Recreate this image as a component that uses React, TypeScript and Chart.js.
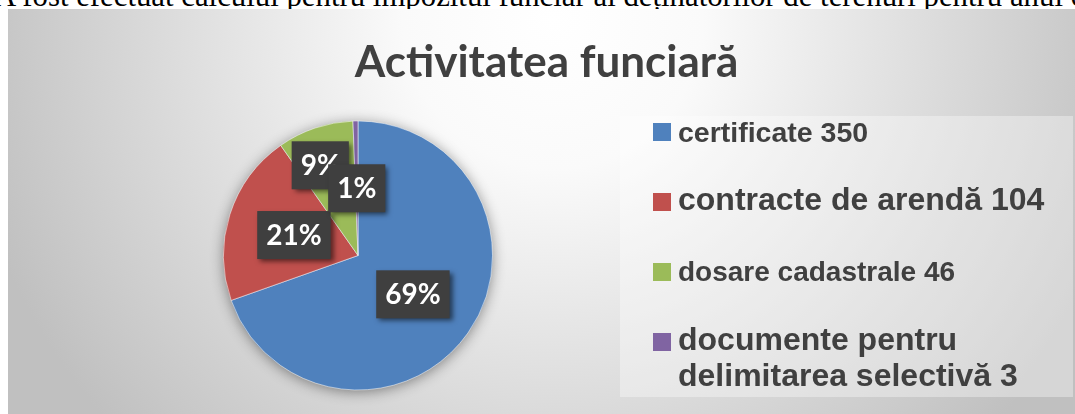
import React, { useEffect, useRef } from "react";
import { Chart, registerables } from "chart.js";

Chart.register(...registerables);

// ---- data ----
const introText =
  "A fost efectuat calculul pentru impozitul funciar al deținătorilor de terenuri pentru anul curent";
const chartTitle = "Activitatea funciară";
const categories = [
  "certificate",
  "contracte de arendă",
  "dosare cadastrale",
  "documente pentru delimitarea selectivă",
];
const values = [350, 104, 46, 3];
const percentLabels = ["69%", "21%", "9%", "1%"];
const legendLines = [
  ["certificate 350"],
  ["contracte de arendă 104"],
  ["dosare cadastrale 46"],
  ["documente pentru", "delimitarea selectivă 3"],
];
const colors = ["#4F81BD", "#C0504D", "#9BBB59", "#8064A2"];

// ---- layout / style constants ----
const W = 1067;
const H = 405;
const TEXT_COLOR = "#404040";
const labelPlacement = [
  { f: 0.5, da: 0 },
  { f: 0.5, da: 0 },
  { f: 0.727, da: -4.1 },
  { f: 0.5, da: 0 },
];
const legendBox = { x: 612, y: 107, w: 453, h: 281 };
const legendSquareX = 645;
const legendTextX = 670;
const legendSquareCenters = [123, 193, 263, 333];
const legendBaselines = [[132.5], [201], [272], [341, 377]];
const legendFontSizes = [28.5, 32, 28, 32];

const decorPlugin = {
  id: "decor",
  beforeDraw(chart: any) {
    const ctx = chart.ctx;
    ctx.save();
    const g = ctx.createRadialGradient(545, 10, 0, 545, 10, 600);
    g.addColorStop(0, "#ffffff");
    g.addColorStop(0.25, "#fafafa");
    g.addColorStop(1, "#c0c0c0");
    ctx.fillStyle = g;
    ctx.fillRect(0, 0, W, H);

    // title
    ctx.fillStyle = TEXT_COLOR;
    ctx.font = "bold 44px Lato";
    ctx.textAlign = "center";
    ctx.textBaseline = "alphabetic";
    ctx.fillText(chartTitle, 538.5, 68);

    // legend
    ctx.fillStyle = "rgba(255,255,255,0.35)";
    ctx.fillRect(legendBox.x, legendBox.y, legendBox.w, legendBox.h);
    ctx.textAlign = "left";
    legendLines.forEach((lines, i) => {
      ctx.fillStyle = colors[i];
      ctx.fillRect(legendSquareX, legendSquareCenters[i] - 9, 18, 18);
      ctx.fillStyle = TEXT_COLOR;
      ctx.font = `bold ${legendFontSizes[i]}px "Liberation Sans", Arial, sans-serif`;
      lines.forEach((ln, j) => {
        ctx.fillText(ln, legendTextX, legendBaselines[i][j]);
      });
    });
    ctx.restore();
  },
  beforeDatasetsDraw(chart: any) {
    const meta = chart.getDatasetMeta(0);
    const arc = meta.data[0];
    if (!arc) return;
    const ctx = chart.ctx;
    ctx.save();
    ctx.shadowColor = "rgba(0,0,0,0.45)";
    ctx.shadowBlur = 14;
    ctx.shadowOffsetY = 2;
    ctx.fillStyle = colors[0];
    ctx.beginPath();
    ctx.arc(arc.x, arc.y, arc.outerRadius - 0.5, 0, Math.PI * 2);
    ctx.fill();
    ctx.restore();
  },
  afterDatasetsDraw(chart: any) {
    const meta = chart.getDatasetMeta(0);
    const ctx = chart.ctx;
    ctx.save();
    ctx.font = "bold 28px Lato";
    ctx.textAlign = "center";
    ctx.textBaseline = "alphabetic";
    meta.data.forEach((arc: any, i: number) => {
      const p = labelPlacement[i];
      const mid = (arc.startAngle + arc.endAngle) / 2 + (p.da * Math.PI) / 180;
      const r = arc.outerRadius * p.f;
      const cx = arc.x + Math.cos(mid) * r;
      const cy = arc.y + Math.sin(mid) * r;
      const text = percentLabels[i];
      const tw = ctx.measureText(text).width;
      const bw = tw + 18;
      const bh = 48;
      ctx.save();
      ctx.shadowColor = "rgba(0,0,0,0.55)";
      ctx.shadowBlur = 5;
      ctx.shadowOffsetX = 3;
      ctx.shadowOffsetY = 3;
      ctx.fillStyle = "#3f3f3f";
      ctx.fillRect(cx - bw / 2, cy - bh / 2, bw, bh);
      ctx.restore();
      ctx.fillStyle = "#ffffff";
      ctx.fillText(text, cx, cy + 10);
    });
    ctx.restore();
  },
};

export default function App() {
  const ref = useRef<HTMLCanvasElement | null>(null);
  useEffect(() => {
    if (!ref.current) return;
    const chart = new Chart(ref.current, {
      type: "pie",
      data: {
        labels: categories,
        datasets: [
          {
            data: values,
            backgroundColor: colors,
            borderColor: "rgba(255,255,255,0.5)",
            borderWidth: 1,
          },
        ],
      },
      options: {
        responsive: false,
        animation: false,
        devicePixelRatio: 1,
        layout: { padding: { left: 215, top: 111, right: 582, bottom: 23 } },
        plugins: {
          legend: { display: false },
          title: { display: false },
          tooltip: { enabled: false },
        },
      },
      plugins: [decorPlugin],
    });
    return () => chart.destroy();
  }, []);

  return (
    <div
      style={{
        position: "fixed",
        left: 0,
        top: 0,
        width: 1075,
        height: 414,
        overflow: "hidden",
        background: "#ffffff",
      }}
    >
      <div
        style={{
          position: "absolute",
          left: -6,
          top: -19.5,
          whiteSpace: "nowrap",
          fontFamily: '"Liberation Serif", "Times New Roman", serif',
          fontSize: 30.8,
          lineHeight: "30.8px",
          color: "#000",
        }}
      >
        {introText}
      </div>
      <div style={{ position: "absolute", left: 8, top: 9, width: W, height: H }}>
        <canvas
          ref={ref}
          width={W}
          height={H}
          style={{ display: "block", width: W, height: H }}
        />
      </div>
    </div>
  );
}
